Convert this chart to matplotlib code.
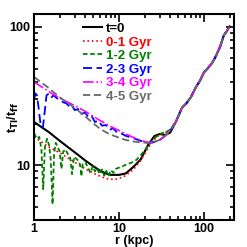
import matplotlib
matplotlib.use('Agg')
import matplotlib.pyplot as plt
from matplotlib.ticker import LogLocator, NullFormatter, FixedLocator, FixedFormatter

plt.rcParams['font.family'] = ['Liberation Sans', 'DejaVu Sans']
plt.rcParams['font.weight'] = 'bold'
plt.rcParams['mathtext.default'] = 'bf'

# outer part shared by every series (r > ~40 kpc)
r_out = [47, 55, 62, 70, 80, 90, 100, 110, 125, 137, 155, 171, 185, 200]
v_out = [20.8, 26, 28, 31, 36.5, 41, 47, 50, 55, 61, 72, 87, 93, 101]

r_t0 = [1, 1.5, 2, 3, 4, 5, 6, 7, 8, 10, 12, 15, 18, 22, 26, 30, 35, 40] + r_out
v_t0 = [20.5, 17.3, 15, 12.4, 10.8, 9.8, 9.1, 8.7, 8.5, 8.5, 8.7, 9.8, 11, 14,
        16.2, 16.8, 16.5, 17.2] + v_out

r_01 = [1, 1.5, 2, 3, 4, 5.5, 7, 8, 9, 10, 12, 15, 18, 22, 26, 30, 35, 40] + r_out
v_01 = [16, 13.5, 12.3, 10.5, 9.4, 8.5, 8.0, 7.9, 7.9, 8.0, 8.4, 9.4, 10.8,
        13.3, 15.3, 16.6, 17.2, 17.9] + v_out

r_12 = [1.0, 1.08, 1.15, 1.22, 1.28, 1.34, 1.42, 1.5, 1.57, 1.65, 1.72, 1.8,
        1.9, 2.0, 2.1, 2.2, 2.35, 2.5, 2.65, 2.8, 2.95, 3.1, 3.3, 3.5, 3.6,
        3.75, 4.0, 4.3, 4.6, 4.9, 5.2, 5.5, 5.9, 6.3, 6.7, 7.1, 7.5, 8.0, 8.6,
        9.2, 10, 11, 12.5, 14, 16, 18, 20, 23, 26, 30, 35, 40] + r_out
v_12 = [17, 15.5, 16, 13, 6.7, 13.5, 15.5, 14, 11, 5.2, 12, 14.5,
        13.5, 12.5, 9.4, 12.5, 13, 12, 11.5, 8.6, 11.5, 11.2, 10.8, 10, 8.3,
        10.2, 10.5, 9.6, 8.8, 9.8, 9.0, 9.5, 8.6, 9.3, 8.4, 9.1, 8.3, 9.2, 8.8,
        9.4, 9.6, 9.8, 10.2, 10.4, 10.9, 11.8, 12.8, 14.3, 15.6, 16.8, 17.3,
        18.0] + v_out

r_23 = [1.0, 1.04, 1.08, 1.13, 1.2, 1.27, 1.33, 1.4, 1.5, 1.6, 1.7, 1.85, 2.0,
        2.2, 2.4, 2.6, 2.8, 3.0, 3.3, 3.6, 4.0, 4.4, 4.8, 5.2, 5.7, 6.3, 7,
        7.8, 8.5, 9.5, 10.5, 12, 14, 16, 19, 22, 25, 30, 35, 40] + r_out
v_23 = [30, 33, 32, 26, 19, 18.8, 24, 32, 33, 31, 32, 30.5, 30,
        28.5, 28, 26.5, 27, 25, 25.5, 23.5, 24, 22, 22.5, 20.5, 21, 19.3, 19.5,
        18, 18.5, 17.2, 17, 16.3, 15.8, 15.4, 14.8, 14.5, 14.6, 15.2, 16.3,
        17.8] + v_out

r_34 = [1, 1.5, 2, 3, 4, 5, 6, 7, 8, 10, 12, 15, 18, 22, 25, 30, 35, 40] + r_out
v_34 = [40, 34, 30.5, 27, 24.5, 22.5, 21, 20, 19, 17.8, 16.8, 15.8, 15.1,
        14.6, 14.6, 15.2, 16.3, 17.8] + v_out

r_45 = [1, 1.5, 2, 3, 4, 5, 6, 7, 8, 10, 12, 15, 18, 22, 25, 30, 35, 40] + r_out
v_45 = [43.5, 36, 31, 26, 22.5, 20, 18.3, 17.3, 16.6, 15.8, 15.2, 14.8, 14.6,
        14.5, 14.6, 15.2, 16.3, 17.8] + v_out

fig = plt.figure(figsize=(2.47, 2.47), dpi=100)
ax = fig.add_axes([0.138, 0.109, 0.809, 0.834])

ax.plot(r_t0, v_t0, '-', color='black', lw=1.5, label='t=0')
ax.plot(r_01, v_01, ':', color='red', lw=1.2, label='0-1 Gyr')
ax.plot(r_12, v_12, '--', color='green', lw=1.3, dashes=(2.5, 1.5), label='1-2 Gyr')
ax.plot(r_23, v_23, '--', color='blue', lw=1.3, dashes=(5, 2.5), label='2-3 Gyr')
ax.plot(r_34, v_34, '-.', color='magenta', lw=1.2, label='3-4 Gyr')
ax.plot(r_45, v_45, '--', color='dimgray', lw=1.3, dashes=(4, 2), label='4-5 Gyr')

ax.set_xscale('log')
ax.set_yscale('log')
ax.set_xlim(1, 225)
ax.set_ylim(4.0, 124)

ax.xaxis.set_major_locator(FixedLocator([1, 10, 100]))
ax.xaxis.set_major_formatter(FixedFormatter(['1', '10', '100']))
ax.yaxis.set_major_locator(FixedLocator([10, 100]))
ax.yaxis.set_major_formatter(FixedFormatter(['10', '100']))
ax.xaxis.set_minor_locator(LogLocator(base=10, subs=range(2, 10)))
ax.yaxis.set_minor_locator(LogLocator(base=10, subs=range(2, 10)))
ax.xaxis.set_minor_formatter(NullFormatter())
ax.yaxis.set_minor_formatter(NullFormatter())
ax.tick_params(which='both', direction='in', top=True, right=True, width=1.2)
ax.tick_params(which='major', length=6, labelsize=9, pad=3)
ax.tick_params(axis='x', which='major', pad=2)
ax.tick_params(which='minor', length=3)
for s in ax.spines.values():
    s.set_linewidth(1.5)

ax.set_xlabel('r (kpc)', fontsize=9, fontweight='bold', va='center')
ax.xaxis.set_label_coords(0.5, -0.1)
ax.set_ylabel(r't$_{\rm TI}$/t$_{\rm ff}$', fontsize=9, fontweight='bold', va='center')
ax.yaxis.set_label_coords(-0.105, 0.5)

leg = ax.legend(loc='upper left', bbox_to_anchor=(0.21, 0.99), frameon=False,
                handlelength=1.45, handletextpad=0.3, labelspacing=0.1,
                borderpad=0, prop={'weight': 'bold', 'size': 9.5},
                labelcolor='linecolor')

fig.savefig('out.png', dpi=100)
